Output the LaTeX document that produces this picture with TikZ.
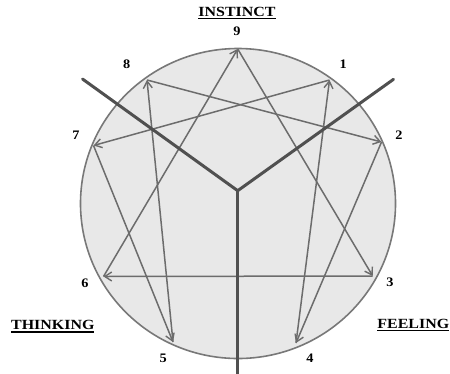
\documentclass[tikz,border=0pt]{standalone}
\usepackage{fontspec}
\setmainfont{Liberation Serif}
\usepackage{graphicx}
\newsavebox{\ulsave}
\newcommand{\ulbox}[1]{\sbox{\ulsave}{#1}\leavevmode\rlap{\raisebox{-3pt}{\rule{\wd\ulsave}{1.2pt}}}\usebox{\ulsave}}
\usetikzlibrary{arrows.meta}
\definecolor{fillgray}{HTML}{E8E8E8}
\definecolor{circgray}{HTML}{787878}
\definecolor{arrgray}{HTML}{6C6C6C}
\definecolor{ygray}{HTML}{505050}
\begin{document}
\begin{tikzpicture}[x=1bp,y=-1bp,
  arr/.style={draw=arrgray,line width=1.5bp,-{Straight Barb[length=7bp,width=9bp,line width=1.4bp]}},
  yline/.style={draw=ygray,line width=3bp,line cap=round,line join=round},
  num/.style={font=\bfseries\fontsize{13bp}{15bp}\selectfont,inner sep=0pt},
  head/.style={font=\bfseries\fontsize{14bp}{16bp}\selectfont,inner sep=0pt}]
\useasboundingbox (0,0) rectangle (450,373);
% circle
\fill[fillgray] (238,203.5) ellipse [x radius=157.5, y radius=155];
\draw[circgray,line width=1.6bp] (238,203.5) ellipse [x radius=157.5, y radius=155];
% points
\coordinate (p9) at (237.7,49);
\coordinate (p1) at (329.5,80);
\coordinate (p2) at (381.5,142);
\coordinate (p3) at (372.7,276);
\coordinate (p4) at (296,343);
\coordinate (p5) at (173,342);
\coordinate (p6) at (103.5,276.5);
\coordinate (p7) at (93.5,145.5);
\coordinate (p8) at (147,80);
% arrows
\draw[arr] (p9) -- (p3);
\draw[arr] (p3) -- (p6);
\draw[arr] (p6) -- (p9);
\draw[arr] (p1) -- (p7);
\draw[arr] (p7) -- (p5);
\draw[arr] (p5) -- (p8);
\draw[arr] (p8) -- (p2);
\draw[arr] (p2) -- (p4);
\draw[arr] (p4) -- (p1);
% Y lines
\coordinate (yc) at (237.7,190.7);
\coordinate (yl) at (82.5,79);
\coordinate (yr) at (393.5,79.3);
\coordinate (yb) at (237.7,375);
\draw[yline] (yl) -- (yc) -- (yr);
\draw[yline] (yc) -- (yb);
% numbers
\node[num] (n9) at (237,31) {\scalebox{1.1}[1]{9}};
\node[num] (n1) at (343.3,64) {\scalebox{1.1}[1]{1}};
\node[num] (n2) at (399,135) {\scalebox{1.1}[1]{2}};
\node[num] (n3) at (390,282) {\scalebox{1.1}[1]{3}};
\node[num] (n4) at (310,358.5) {\scalebox{1.1}[1]{4}};
\node[num] (n5) at (163.3,358.5) {\scalebox{1.1}[1]{5}};
\node[num] (n6) at (85,283) {\scalebox{1.1}[1]{6}};
\node[num] (n7) at (76,135) {\scalebox{1.1}[1]{7}};
\node[num] (n8) at (126.7,64) {\scalebox{1.1}[1]{8}};
% headings
\node[head,anchor=base] (inst) at (237,16) {\scalebox{1.14}[1]{\ulbox{INSTINCT}}};
\node[head,anchor=base] (think) at (52.8,329.5) {\scalebox{1.14}[1]{\ulbox{THINKING}}};
\node[head,anchor=base] (feel) at (413.3,328.3) {\scalebox{1.14}[1]{\ulbox{FEELING}}};
\end{tikzpicture}
\end{document}
